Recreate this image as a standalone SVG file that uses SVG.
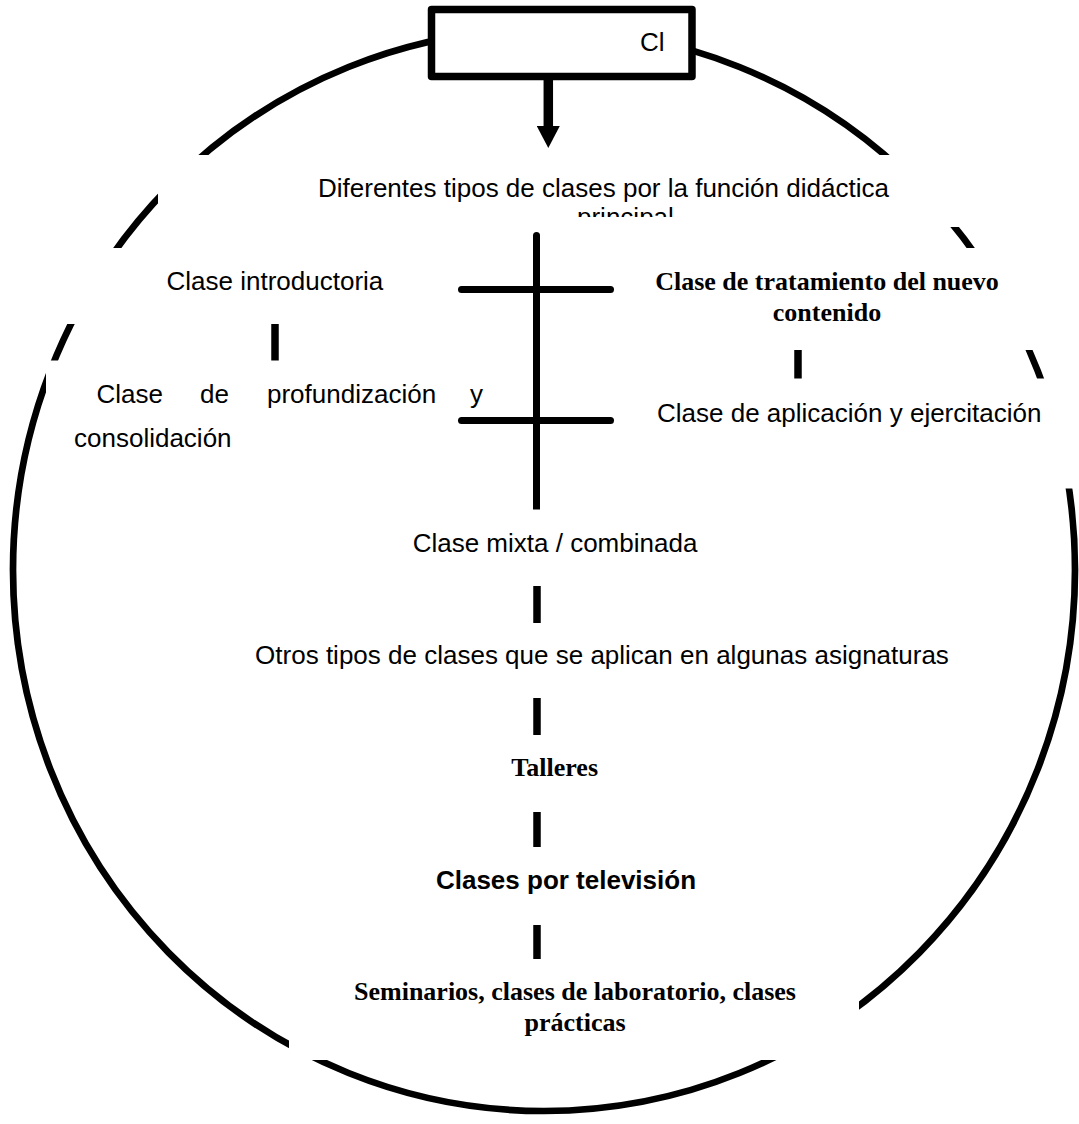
<svg xmlns="http://www.w3.org/2000/svg" width="1079" height="1124" viewBox="0 0 1079 1124">
  <style>
    .bg { fill: #ffffff; }
    .sans { font-family: "Liberation Sans", Arial, sans-serif; font-size: 26px; fill: #000; }
    .sansb { font-family: "Liberation Sans", Arial, sans-serif; font-size: 26px; font-weight: bold; fill: #000; }
    .serifb { font-family: "Liberation Serif", "Times New Roman", serif; font-size: 26px; font-weight: bold; fill: #000; }
    .bar { stroke: #000; stroke-width: 7; stroke-linecap: round; fill: none; }
    .tick { stroke: #000; stroke-width: 7.5; stroke-linecap: butt; fill: none; }
  </style>
  <defs>
    <marker id="arrowHead" markerUnits="userSpaceOnUse" markerWidth="22" markerHeight="23" viewBox="0 0 22 23" refX="0" refY="11.5" orient="auto">
      <path d="M0,0 L22,11.5 L0,23 Z" fill="#000"/>
    </marker>
    <clipPath id="titleClip">
      <rect x="158" y="155" width="812" height="62"/>
    </clipPath>
  </defs>

  <rect width="1079" height="1124" fill="#ffffff"/>

  <!-- outer ring -->
  <ellipse id="ring" cx="544" cy="570" rx="531" ry="541" fill="none" stroke="#000" stroke-width="6.7"/>

  <!-- text nodes (white boxes sit over the ring) -->
  <g id="node-title">
    <rect class="bg" x="158" y="155" width="812" height="72"/>
    <g clip-path="url(#titleClip)">
      <text class="sans" x="318" y="196.7">Diferentes tipos de clases por la función didáctica</text>
      <text class="sans" x="577" y="225.5">principal</text>
    </g>
  </g>

  <g id="node-introductoria">
    <rect class="bg" x="40" y="248" width="410" height="76"/>
    <text class="sans" x="166.5" y="290">Clase introductoria</text>
  </g>

  <g id="node-tratamiento">
    <rect class="bg" x="630" y="248" width="435" height="102"/>
    <text class="serifb" x="827" y="290" text-anchor="middle">Clase de tratamiento del nuevo</text>
    <text class="serifb" x="827" y="321" text-anchor="middle">contenido</text>
  </g>

  <g id="node-profundizacion">
    <rect class="bg" x="46" y="360.5" width="444" height="110"/>
    <text class="sans" y="403"><tspan x="96.5">Clase</tspan><tspan x="200">de</tspan><tspan x="267">profundización</tspan><tspan x="470">y</tspan></text>
    <text class="sans" x="74" y="447">consolidación</text>
  </g>

  <g id="node-aplicacion">
    <rect class="bg" x="640" y="378.5" width="439" height="110"/>
    <text class="sans" x="657" y="422">Clase de aplicación y ejercitación</text>
  </g>

  <g id="node-mixta">
    <rect class="bg" x="400" y="520" width="310" height="44"/>
    <text class="sans" x="555" y="551.7" text-anchor="middle">Clase mixta / combinada</text>
  </g>

  <g id="node-otros">
    <rect class="bg" x="245" y="632" width="715" height="44"/>
    <text class="sans" x="602" y="664" text-anchor="middle">Otros tipos de clases que se aplican en algunas asignaturas</text>
  </g>

  <g id="node-talleres">
    <rect class="bg" x="495" y="746" width="120" height="42"/>
    <text class="serifb" x="554.7" y="776" text-anchor="middle">Talleres</text>
  </g>

  <g id="node-television">
    <rect class="bg" x="425" y="858" width="282" height="42"/>
    <text class="sansb" x="566" y="888.5" text-anchor="middle">Clases por televisión</text>
  </g>

  <g id="node-seminarios">
    <rect class="bg" x="289" y="959" width="570" height="101"/>
    <text class="serifb" x="575" y="1000" text-anchor="middle">Seminarios, clases de laboratorio, clases</text>
    <text class="serifb" x="575" y="1031" text-anchor="middle">prácticas</text>
  </g>

  <g id="node-cl">
    <rect x="431.5" y="9.5" width="260.5" height="67" fill="#ffffff" stroke="#000" stroke-width="7.5" stroke-linejoin="round"/>
    <text class="sans" x="640" y="50.5">Cl</text>
  </g>

  <!-- connectors -->
  <g id="connectors">
    <line x1="548.3" y1="80" x2="548.3" y2="126" stroke="#000" stroke-width="9.5" marker-end="url(#arrowHead)"/>
    <path d="M533,509.5 V235.5 A3.5,3.5 0 0 1 540,235.5 V509.5 Z" fill="#000"/>
    <line class="bar" x1="461.5" y1="289.5" x2="610.5" y2="289.5"/>
    <line class="bar" x1="461.5" y1="420.5" x2="610.5" y2="420.5"/>
    <line class="tick" x1="275" y1="324" x2="275" y2="360.5"/>
    <line class="tick" x1="798" y1="350" x2="798" y2="378.5"/>
    <line class="tick" x1="537" y1="586" x2="537" y2="623"/>
    <line class="tick" x1="537" y1="698" x2="537" y2="735"/>
    <line class="tick" x1="537" y1="812" x2="537" y2="847"/>
    <line class="tick" x1="537" y1="925" x2="537" y2="959"/>
  </g>
</svg>
